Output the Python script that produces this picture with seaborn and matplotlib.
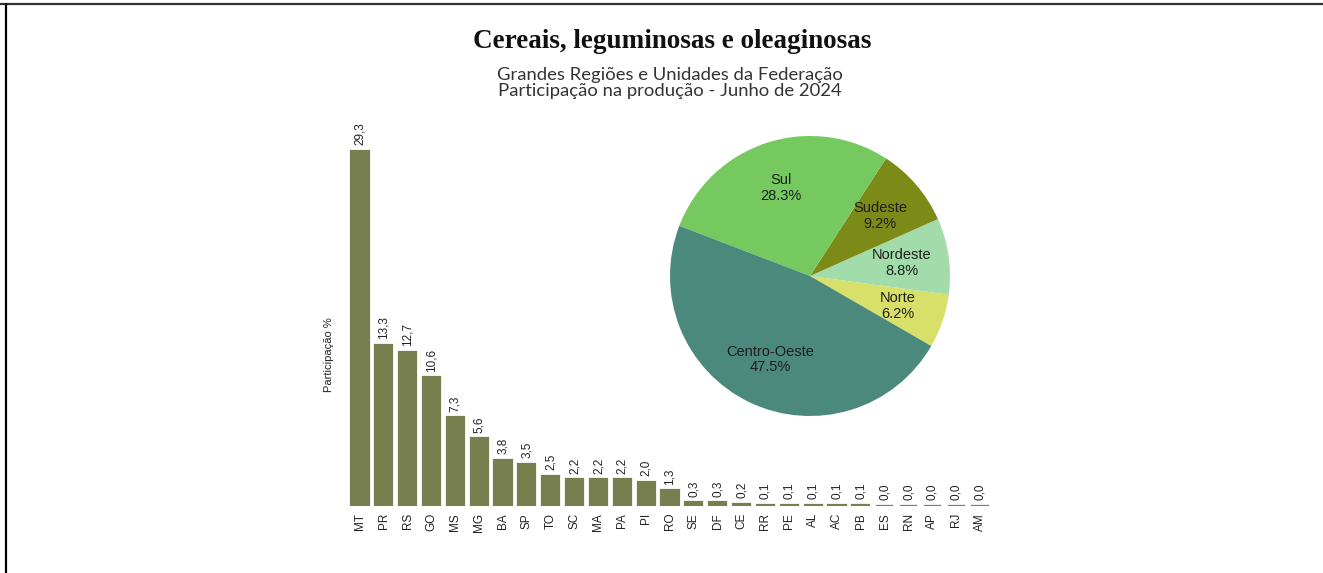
import matplotlib
matplotlib.use("Agg")
import matplotlib.pyplot as plt
import seaborn as sns
import pandas as pd
from matplotlib.lines import Line2D

# ---- data ----
states = ["MT", "PR", "RS", "GO", "MS", "MG", "BA", "SP", "TO", "SC", "MA", "PA", "PI",
          "RO", "SE", "DF", "CE", "RR", "PE", "AL", "AC", "PB", "ES", "RN", "AP", "RJ", "AM"]
shares = [29.3, 13.3, 12.7, 10.6, 7.3, 5.6, 3.8, 3.5, 2.5, 2.2, 2.2, 2.2, 2.0,
          1.3, 0.3, 0.3, 0.2, 0.1, 0.1, 0.1, 0.1, 0.1, 0.0, 0.0, 0.0, 0.0, 0.0]

regions = ["Norte", "Nordeste", "Sudeste", "Sul", "Centro-Oeste"]
region_shares = [6.2, 8.8, 9.2, 28.3, 47.5]
region_colors = ["#d8e06a", "#a3dcab", "#7c8a18", "#75c95f", "#4a897b"]

title = "Cereais, leguminosas e oleaginosas"
subtitle = "Grandes Regiões e Unidades da Federação\nParticipação na produção - Junho de 2024"
ylabel = "Participação %"

sns.set_theme(style="white")
plt.rcParams["font.family"] = ["Liberation Sans", "DejaVu Sans"]

W, H = 1323, 573
fig = plt.figure(figsize=(W / 100, H / 100), dpi=100)

df = pd.DataFrame({"uf": states, "share": shares})

BAR = "#787f4e"

# ---- bar chart ----
ax = fig.add_axes([348 / W, (H - 506) / H, 644 / W, (506 - 118) / H])
sns.barplot(data=df, x="uf", y="share", color=BAR, saturation=1,
            width=0.72, ax=ax, order=states, edgecolor=BAR, linewidth=1.6)
ax.set_ylim(0, 32)
ax.set_xlim(-0.5, len(states) - 0.5)
for s in ax.spines.values():
    s.set_visible(False)
ax.set_yticks([])
ax.set_xlabel("")
ax.set_ylabel(ylabel, fontsize=8, color="#222222")
ax.yaxis.set_label_coords(-0.022, 0.39)
ax.tick_params(axis="x", length=0, pad=5, labelsize=8.5, labelcolor="#222222",
               labelrotation=90)
labels = [f"{v:.1f}".replace(".", ",") for v in shares]
ax.bar_label(ax.containers[0], labels=labels, rotation=90, padding=4,
             fontsize=8.5, color="#222222")

# ---- pie chart ----
pax = fig.add_axes([670 / W, (H - 416) / H, 280 / W, 280 / H])
wedges, texts = pax.pie(region_shares, colors=region_colors, startangle=-30,
                        counterclock=True,
                        labels=[f"{r}\n{v:.1f}%" for r, v in zip(regions, region_shares)],
                        labeldistance=0.66,
                        wedgeprops=dict(linewidth=0),
                        textprops=dict(fontsize=10.5, color="#1e1e1e",
                                       ha="center", va="center",
                                       multialignment="center",
                                       linespacing=1.15))
pax.set_xlim(-1, 1)
pax.set_ylim(-1, 1)
pax.set_aspect("equal")

# ---- titles ----
fig.text(672 / W, 1 - 42 / H, title, ha="center", va="center",
         fontsize=19.5, fontweight="bold", family=["Liberation Serif", "DejaVu Serif"],
         color="#111111")
fig.text(670 / W, 1 - 83 / H, subtitle, ha="center", va="center",
         fontsize=13.3, fontweight="normal", family=["Lato", "DejaVu Sans"],
         color="#333333", linespacing=0.95)

# ---- frame lines ----
fig.add_artist(Line2D([0, 1], [1 - 4 / H, 1 - 4 / H], transform=fig.transFigure,
                      color="#333333", linewidth=1.6))
fig.add_artist(Line2D([6 / W, 6 / W], [0, 1 - 4 / H], transform=fig.transFigure,
                      color="#000000", linewidth=1.6))

fig.savefig("out.png", dpi=100, facecolor="white")
